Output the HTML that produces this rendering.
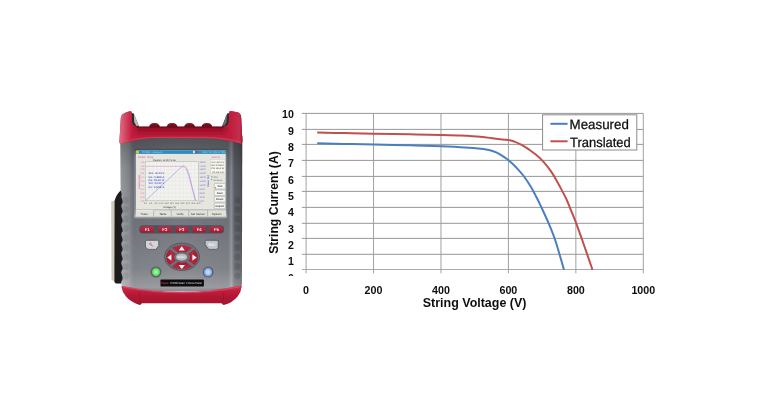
<!DOCTYPE html>
<html lang="en">
<head>
<meta charset="utf-8">
<title>Solar I-V curve tracer and string I-V curves</title>
<style>
html,body{margin:0;padding:0;background:#fff;}
body{width:766px;height:415px;overflow:hidden;font-family:"Liberation Sans", Arial, sans-serif;}
svg{display:block;}
</style>
</head>
<body>
<svg width="766" height="415" viewBox="0 0 766 415">
<rect width="766" height="415" fill="#fff"/>
<g filter="url(#soft)">
<defs>
<linearGradient id="bodyG" x1="120" y1="0" x2="242.2" y2="0" gradientUnits="userSpaceOnUse">
 <stop offset="0" stop-color="#a6a9ae"/>
 <stop offset="0.015" stop-color="#95989d"/>
 <stop offset="0.05" stop-color="#8c8f95"/>
 <stop offset="0.08" stop-color="#80838a"/>
 <stop offset="0.092" stop-color="#74777d"/>
 <stop offset="0.118" stop-color="#6b6e75"/>
 <stop offset="0.5" stop-color="#73767d"/>
 <stop offset="0.885" stop-color="#6b6e75"/>
 <stop offset="0.912" stop-color="#888b92"/>
 <stop offset="0.935" stop-color="#5b5e64"/>
 <stop offset="0.98" stop-color="#51545a"/>
 <stop offset="1" stop-color="#43464b"/>
</linearGradient>
<linearGradient id="bodyV" x1="0" y1="138" x2="0" y2="292" gradientUnits="userSpaceOnUse">
 <stop offset="0" stop-color="#000" stop-opacity="0.28"/>
 <stop offset="0.08" stop-color="#000" stop-opacity="0.18"/>
 <stop offset="0.2" stop-color="#000" stop-opacity="0.05"/>
 <stop offset="0.55" stop-color="#fff" stop-opacity="0.02"/>
 <stop offset="0.85" stop-color="#fff" stop-opacity="0.14"/>
 <stop offset="0.97" stop-color="#fff" stop-opacity="0.30"/>
 <stop offset="1" stop-color="#fff" stop-opacity="0.10"/>
</linearGradient>
<linearGradient id="redTop" x1="0" y1="110" x2="0" y2="144" gradientUnits="userSpaceOnUse">
 <stop offset="0" stop-color="#cf2a48"/>
 <stop offset="0.42" stop-color="#c21c3c"/>
 <stop offset="0.49" stop-color="#be1b3a"/>
 <stop offset="0.505" stop-color="#960d25"/>
 <stop offset="0.64" stop-color="#a8122e"/>
 <stop offset="0.82" stop-color="#bf203d"/>
 <stop offset="1" stop-color="#cf3a56"/>
</linearGradient>
<linearGradient id="hornL" x1="119" y1="0" x2="140" y2="0" gradientUnits="userSpaceOnUse">
 <stop offset="0" stop-color="#cd2947" stop-opacity="1"/>
 <stop offset="0.55" stop-color="#c52040" stop-opacity="1"/>
 <stop offset="1" stop-color="#c21b3c" stop-opacity="0"/>
</linearGradient>
<linearGradient id="hornR" x1="243" y1="0" x2="221" y2="0" gradientUnits="userSpaceOnUse">
 <stop offset="0" stop-color="#b81636" stop-opacity="1"/>
 <stop offset="0.55" stop-color="#c21e3e" stop-opacity="1"/>
 <stop offset="1" stop-color="#c21b3c" stop-opacity="0"/>
</linearGradient>
<linearGradient id="redTopH" x1="119" y1="0" x2="243" y2="0" gradientUnits="userSpaceOnUse">
 <stop offset="0" stop-color="#fff" stop-opacity="0.35"/>
 <stop offset="0.035" stop-color="#fff" stop-opacity="0.22"/>
 <stop offset="0.10" stop-color="#fff" stop-opacity="0"/>
 <stop offset="0.90" stop-color="#fff" stop-opacity="0"/>
 <stop offset="0.97" stop-color="#fff" stop-opacity="0.10"/>
 <stop offset="1" stop-color="#000" stop-opacity="0.10"/>
</linearGradient>
<linearGradient id="redBot" x1="0" y1="285" x2="0" y2="306" gradientUnits="userSpaceOnUse">
 <stop offset="0" stop-color="#d43a56"/>
 <stop offset="0.3" stop-color="#be1d3b"/>
 <stop offset="0.6" stop-color="#b01632"/>
 <stop offset="1" stop-color="#a0102a"/>
</linearGradient>
<linearGradient id="bezG" x1="0" y1="148.7" x2="0" y2="218.5" gradientUnits="userSpaceOnUse">
 <stop offset="0" stop-color="#46494f"/>
 <stop offset="0.04" stop-color="#585b61"/>
 <stop offset="0.12" stop-color="#787b81"/>
 <stop offset="0.9" stop-color="#85888e"/>
 <stop offset="0.97" stop-color="#a9acb1"/>
 <stop offset="1" stop-color="#8c8f95"/>
</linearGradient>
<linearGradient id="fbtn" x1="0" y1="226" x2="0" y2="233" gradientUnits="userSpaceOnUse">
 <stop offset="0" stop-color="#bd3049"/>
 <stop offset="1" stop-color="#a11a31"/>
</linearGradient>
<radialGradient id="greenB" cx="0.5" cy="0.5" r="0.5">
 <stop offset="0" stop-color="#b4f8b4"/>
 <stop offset="0.6" stop-color="#74e67c"/>
 <stop offset="1" stop-color="#48bc56"/>
</radialGradient>
<radialGradient id="blueB" cx="0.5" cy="0.5" r="0.5">
 <stop offset="0" stop-color="#c8dcff"/>
 <stop offset="0.6" stop-color="#9bbcf5"/>
 <stop offset="1" stop-color="#6f93dd"/>
</radialGradient>
<radialGradient id="padR" cx="182" cy="257.2" r="16" gradientUnits="userSpaceOnUse">
 <stop offset="0.35" stop-color="#a21a30"/>
 <stop offset="0.7" stop-color="#b32a41"/>
 <stop offset="1" stop-color="#9e182e"/>
</radialGradient>
<radialGradient id="padG" cx="0.5" cy="0.5" r="0.5">
 <stop offset="0" stop-color="#8b8e94"/>
 <stop offset="0.8" stop-color="#62656b"/>
 <stop offset="1" stop-color="#55585e"/>
</radialGradient>
</defs>
<g id="device">
<path d="M111.2,201.6 L115,200.6 L115,281.6 L111.5,280.0 Z" fill="#d2ccbb"/>
<path id="bodyP" d="M120.2,136 L121.2,283 Q121.4,287.2 126,288.2 Q181,294.5 237.5,288.2 Q241.7,287.2 241.9,283 L242.3,136 Z" fill="url(#bodyG)"/>
<path d="M120.2,136 L121.2,283 Q121.4,287.2 126,288.2 Q181,294.5 237.5,288.2 Q241.7,287.2 241.9,283 L242.3,136 Z" fill="url(#bodyV)"/>
<path d="M120.6,190.6 Q116.8,194 114.6,200.4 L114.4,281.4 Q114.6,283.4 116.4,283.5 L121.0,283.5 L121.6,281 Q123.6,278.9 121.7,274.2 Q120.9,272.5 121.7,270.5 Q123.6,269.4 121.7,264.7 Q120.9,263.0 121.7,261.0 Q123.6,259.9 121.7,255.2 Q120.9,253.5 121.7,251.5 Q123.6,250.4 121.7,245.7 Q120.9,244.0 121.7,242.0 Q123.6,240.9 121.7,236.2 Q120.9,234.5 121.7,232.5 Q123.6,231.4 121.7,226.7 Q120.9,225.0 121.7,223.0 Q123.6,221.9 121.7,217.2 Q120.9,215.5 121.7,213.5 Q123.6,212.4 121.7,207.7 Q120.9,206.0 121.7,204.0 Q123.6,202.9 121.7,198.2 Q120.9,196.5 121.7,194.5 L121.2,192 Z" fill="#1d1d1f"/>
<ellipse cx="125.6" cy="200.0" rx="3.2" ry="3.6" fill="#000" opacity="0.07"/>
<ellipse cx="237.3" cy="200.0" rx="3.0" ry="3.6" fill="#000" opacity="0.10"/>
<ellipse cx="125.6" cy="209.5" rx="3.2" ry="3.6" fill="#000" opacity="0.07"/>
<ellipse cx="237.3" cy="209.5" rx="3.0" ry="3.6" fill="#000" opacity="0.10"/>
<ellipse cx="125.6" cy="219.0" rx="3.2" ry="3.6" fill="#000" opacity="0.07"/>
<ellipse cx="237.3" cy="219.0" rx="3.0" ry="3.6" fill="#000" opacity="0.10"/>
<ellipse cx="125.6" cy="228.5" rx="3.2" ry="3.6" fill="#000" opacity="0.07"/>
<ellipse cx="237.3" cy="228.5" rx="3.0" ry="3.6" fill="#000" opacity="0.10"/>
<ellipse cx="125.6" cy="238.0" rx="3.2" ry="3.6" fill="#000" opacity="0.07"/>
<ellipse cx="237.3" cy="238.0" rx="3.0" ry="3.6" fill="#000" opacity="0.10"/>
<ellipse cx="125.6" cy="247.5" rx="3.2" ry="3.6" fill="#000" opacity="0.07"/>
<ellipse cx="237.3" cy="247.5" rx="3.0" ry="3.6" fill="#000" opacity="0.10"/>
<ellipse cx="125.6" cy="257.0" rx="3.2" ry="3.6" fill="#000" opacity="0.07"/>
<ellipse cx="237.3" cy="257.0" rx="3.0" ry="3.6" fill="#000" opacity="0.10"/>
<ellipse cx="125.6" cy="266.5" rx="3.2" ry="3.6" fill="#000" opacity="0.07"/>
<ellipse cx="237.3" cy="266.5" rx="3.0" ry="3.6" fill="#000" opacity="0.10"/>
<ellipse cx="125.6" cy="276.0" rx="3.2" ry="3.6" fill="#000" opacity="0.07"/>
<ellipse cx="237.3" cy="276.0" rx="3.0" ry="3.6" fill="#000" opacity="0.10"/>
<path d="M131,113.3 L133.6,113.3 L139.4,127.2 L221.6,127.2 L227.4,113.3 L229.6,113.3 L229.6,128 L131,128 Z" fill="#2c2d32"/>
<path d="M133.9,114.8 L135.0,115.2 L136.8,121 L138.8,125.9 L136.2,125.7 L134.2,122 Z" fill="#bdbaae"/>
<path d="M227.0,114.8 L226.0,115.2 L224.4,121 L222.4,125.8 L224.6,125.6 L226.6,122 Z" fill="#6c6d70"/>
<path d="M148.9,127.2 Q149.9,123.0 154.5,123.0 Q159.1,123.0 160.1,127.2 Z" fill="#700c1c"/>
<path d="M151.1,124.3 Q154.5,123.0 157.9,124.3" fill="none" stroke="#a8283c" stroke-width="0.7"/>
<path d="M166.5,127.2 Q167.5,123.0 172.1,123.0 Q176.7,123.0 177.7,127.2 Z" fill="#700c1c"/>
<path d="M168.7,124.3 Q172.1,123.0 175.5,124.3" fill="none" stroke="#a8283c" stroke-width="0.7"/>
<path d="M184.0,127.2 Q185.0,123.0 189.6,123.0 Q194.2,123.0 195.2,127.2 Z" fill="#700c1c"/>
<path d="M186.2,124.3 Q189.6,123.0 193.0,124.3" fill="none" stroke="#a8283c" stroke-width="0.7"/>
<path d="M201.3,127.2 Q202.3,123.0 206.9,123.0 Q211.5,123.0 212.5,127.2 Z" fill="#700c1c"/>
<path d="M203.5,124.3 Q206.9,123.0 210.3,124.3" fill="none" stroke="#a8283c" stroke-width="0.7"/>
<path d="M119.4,142.0 L120.8,118.6 C121.1,114.4 123.4,112.7 130.2,111.2 Q131.9,111.0 131.9,113.2 L131.9,121.5 Q132.2,126.8 138.5,126.8 L222.5,126.8 Q228.6,126.8 228.9,121.5 L228.9,113.2 Q228.9,111.0 230.8,111.0 L237.4,112.2 Q240.8,113.0 241.2,117.2 L242.4,141.6 Q242.5,143.6 240.6,143.4 Q226,138.9 205,138.2 L158,138.1 Q136,138.7 122.0,143.6 Q119.4,144.2 119.4,142.0 Z" fill="url(#redTop)"/>
<path d="M119.4,142.0 L120.8,118.6 C121.1,114.4 123.4,112.7 130.2,111.2 Q131.9,111.0 131.9,113.2 L131.9,121.5 Q132.2,126.8 138.5,126.8 L139,140.4 Q128,141.6 122.0,143.6 Q119.4,144.2 119.4,142.0 Z" fill="url(#hornL)"/>
<path d="M242.4,141.6 L241.2,117.2 Q240.8,113.0 237.4,112.2 L230.8,111.0 Q228.9,111.0 228.9,113.2 L228.9,121.5 Q228.6,126.8 222.5,126.8 L222,140.0 Q233,141.2 240.6,143.4 Q242.5,143.6 242.4,141.6 Z" fill="url(#hornR)"/>
<path d="M119.4,142.0 L120.8,118.6 C121.1,114.4 123.4,112.7 130.2,111.2 Q131.9,111.0 131.9,113.2 L131.9,121.5 Q132.2,126.8 138.5,126.8 L222.5,126.8 Q228.6,126.8 228.9,121.5 L228.9,113.2 Q228.9,111.0 230.8,111.0 L237.4,112.2 Q240.8,113.0 241.2,117.2 L242.4,141.6 Q242.5,143.6 240.6,143.4 Q226,138.9 205,138.2 L158,138.1 Q136,138.7 122.0,143.6 Q119.4,144.2 119.4,142.0 Z" fill="url(#redTopH)"/>
<path d="M136.6,127.0 L223.4,127.0" stroke="#3c0813" stroke-width="0.9" opacity="0.9"/>
<path d="M121,142.6 Q137,137.8 158,137.3 L205,137.4 Q226,138.1 241,142.4" fill="none" stroke="#e0506c" stroke-width="1.1" opacity="0.5"/>
<rect x="134.0" y="148.7" width="93.2" height="69.8" rx="1.8" fill="url(#bezG)"/>
<rect x="135.9" y="150.5" width="89.8" height="65.9" fill="#e6e6df"/>
<rect x="135.9" y="150.5" width="89.8" height="3.4" fill="#2b8dc4"/>
<rect x="136.2" y="150.8" width="2.6" height="2.8" fill="#e8d020"/>
<rect x="193.2" y="150.8" width="1.6" height="2.4" fill="#f4f4f4"/><rect x="195.6" y="150.8" width="1.6" height="2.4" fill="#d03030"/>
<text transform="translate(142.50 153.30) scale(0.259 0.260)" font-family='"Liberation Sans", Arial, sans-serif' font-size="10" fill="#a8d8f0" text-rendering="geometricPrecision">PV900 - Analyzer</text>
<text transform="translate(202.50 153.30) scale(0.279 0.260)" font-family='"Liberation Sans", Arial, sans-serif' font-size="10" fill="#a8d8f0" text-rendering="geometricPrecision">2017-07-25  17:25</text>
<rect x="145.4" y="161.8" width="53.0" height="39.0" fill="#f2f2ee" stroke="#a4a4aa" stroke-width="0.45"/>
<g stroke="#dadade" stroke-width="0.3"><line x1="145.4" y1="165.7" x2="198.4" y2="165.7"/><line x1="145.4" y1="169.6" x2="198.4" y2="169.6"/><line x1="145.4" y1="173.5" x2="198.4" y2="173.5"/><line x1="145.4" y1="177.4" x2="198.4" y2="177.4"/><line x1="145.4" y1="181.3" x2="198.4" y2="181.3"/><line x1="145.4" y1="185.2" x2="198.4" y2="185.2"/><line x1="145.4" y1="189.1" x2="198.4" y2="189.1"/><line x1="145.4" y1="193.0" x2="198.4" y2="193.0"/><line x1="145.4" y1="196.9" x2="198.4" y2="196.9"/><line x1="149.2" y1="161.8" x2="149.2" y2="200.8"/><line x1="153.0" y1="161.8" x2="153.0" y2="200.8"/><line x1="156.8" y1="161.8" x2="156.8" y2="200.8"/><line x1="160.6" y1="161.8" x2="160.6" y2="200.8"/><line x1="164.3" y1="161.8" x2="164.3" y2="200.8"/><line x1="168.1" y1="161.8" x2="168.1" y2="200.8"/><line x1="171.9" y1="161.8" x2="171.9" y2="200.8"/><line x1="175.7" y1="161.8" x2="175.7" y2="200.8"/><line x1="179.5" y1="161.8" x2="179.5" y2="200.8"/><line x1="183.3" y1="161.8" x2="183.3" y2="200.8"/><line x1="187.1" y1="161.8" x2="187.1" y2="200.8"/><line x1="190.9" y1="161.8" x2="190.9" y2="200.8"/><line x1="194.7" y1="161.8" x2="194.7" y2="200.8"/></g>
<path d="M145.6,166.4 L181.5,166.4 Q184.6,166.4 186.2,169 Q188.6,174 191.0,184 L195.2,200.6" fill="none" stroke="#e884c0" stroke-width="0.5"/>
<path d="M145.6,200.6 L181.0,167.4 Q183.2,165.4 184.6,166.0 Q186.8,167.2 188.6,173 Q191.4,184 195.6,200.6" fill="none" stroke="#8080dc" stroke-width="0.5"/>
<text transform="translate(153.00 160.60) scale(0.231 0.240)" font-family='"Liberation Sans", Arial, sans-serif' font-size="10" fill="#444" text-rendering="geometricPrecision">Daystar I at 60of Solar</text>
<text transform="translate(137.90 158.30) scale(0.236 0.270)" font-family='"Liberation Sans", Arial, sans-serif' font-size="10" fill="#dc50ac" text-rendering="geometricPrecision">Module: String</text>
<text transform="translate(139.60 189.00) rotate(-90) scale(0.283 0.250)" font-family='"Liberation Sans", Arial, sans-serif' font-size="10" fill="#d63aa0" text-rendering="geometricPrecision">Current (A)</text>
<text transform="translate(209.20 187.00) rotate(-90) scale(0.254 0.250)" font-family='"Liberation Sans", Arial, sans-serif' font-size="10" fill="#4a4ad0" text-rendering="geometricPrecision">Power (W)</text>
<text transform="translate(163.00 208.20) scale(0.263 0.250)" font-family='"Liberation Sans", Arial, sans-serif' font-size="10" fill="#333" text-rendering="geometricPrecision">Voltage (V)</text>
<text transform="translate(144.40 162.60) scale(0.200 0.200)" font-family='"Liberation Sans", Arial, sans-serif' font-size="10" text-anchor="end" fill="#e060b0" text-rendering="geometricPrecision">1.09</text>
<text transform="translate(144.40 166.50) scale(0.200 0.200)" font-family='"Liberation Sans", Arial, sans-serif' font-size="10" text-anchor="end" fill="#e060b0" text-rendering="geometricPrecision">1.00</text>
<text transform="translate(144.40 170.40) scale(0.200 0.200)" font-family='"Liberation Sans", Arial, sans-serif' font-size="10" text-anchor="end" fill="#e060b0" text-rendering="geometricPrecision">0.90</text>
<text transform="translate(144.40 174.30) scale(0.200 0.200)" font-family='"Liberation Sans", Arial, sans-serif' font-size="10" text-anchor="end" fill="#e060b0" text-rendering="geometricPrecision">0.81</text>
<text transform="translate(144.40 178.20) scale(0.200 0.200)" font-family='"Liberation Sans", Arial, sans-serif' font-size="10" text-anchor="end" fill="#e060b0" text-rendering="geometricPrecision">0.72</text>
<text transform="translate(144.40 182.10) scale(0.200 0.200)" font-family='"Liberation Sans", Arial, sans-serif' font-size="10" text-anchor="end" fill="#e060b0" text-rendering="geometricPrecision">0.63</text>
<text transform="translate(144.40 186.00) scale(0.200 0.200)" font-family='"Liberation Sans", Arial, sans-serif' font-size="10" text-anchor="end" fill="#e060b0" text-rendering="geometricPrecision">0.54</text>
<text transform="translate(144.40 189.90) scale(0.200 0.200)" font-family='"Liberation Sans", Arial, sans-serif' font-size="10" text-anchor="end" fill="#e060b0" text-rendering="geometricPrecision">0.45</text>
<text transform="translate(144.40 193.80) scale(0.200 0.200)" font-family='"Liberation Sans", Arial, sans-serif' font-size="10" text-anchor="end" fill="#e060b0" text-rendering="geometricPrecision">0.36</text>
<text transform="translate(144.40 197.70) scale(0.200 0.200)" font-family='"Liberation Sans", Arial, sans-serif' font-size="10" text-anchor="end" fill="#e060b0" text-rendering="geometricPrecision">0.18</text>
<text transform="translate(144.40 201.60) scale(0.200 0.200)" font-family='"Liberation Sans", Arial, sans-serif' font-size="10" text-anchor="end" fill="#e060b0" text-rendering="geometricPrecision">0.00</text>
<text transform="translate(199.60 162.60) scale(0.200 0.200)" font-family='"Liberation Sans", Arial, sans-serif' font-size="10" fill="#5a5ad8" text-rendering="geometricPrecision">300.00</text>
<text transform="translate(199.60 166.50) scale(0.200 0.200)" font-family='"Liberation Sans", Arial, sans-serif' font-size="10" fill="#5a5ad8" text-rendering="geometricPrecision">270.00</text>
<text transform="translate(199.60 170.40) scale(0.200 0.200)" font-family='"Liberation Sans", Arial, sans-serif' font-size="10" fill="#5a5ad8" text-rendering="geometricPrecision">240.00</text>
<text transform="translate(199.60 174.30) scale(0.200 0.200)" font-family='"Liberation Sans", Arial, sans-serif' font-size="10" fill="#5a5ad8" text-rendering="geometricPrecision">210.00</text>
<text transform="translate(199.60 178.20) scale(0.200 0.200)" font-family='"Liberation Sans", Arial, sans-serif' font-size="10" fill="#5a5ad8" text-rendering="geometricPrecision">180.00</text>
<text transform="translate(199.60 182.10) scale(0.200 0.200)" font-family='"Liberation Sans", Arial, sans-serif' font-size="10" fill="#5a5ad8" text-rendering="geometricPrecision">150.00</text>
<text transform="translate(199.60 186.00) scale(0.200 0.200)" font-family='"Liberation Sans", Arial, sans-serif' font-size="10" fill="#5a5ad8" text-rendering="geometricPrecision">120.00</text>
<text transform="translate(199.60 189.90) scale(0.200 0.200)" font-family='"Liberation Sans", Arial, sans-serif' font-size="10" fill="#5a5ad8" text-rendering="geometricPrecision">90.00</text>
<text transform="translate(199.60 193.80) scale(0.200 0.200)" font-family='"Liberation Sans", Arial, sans-serif' font-size="10" fill="#5a5ad8" text-rendering="geometricPrecision">60.00</text>
<text transform="translate(199.60 197.70) scale(0.200 0.200)" font-family='"Liberation Sans", Arial, sans-serif' font-size="10" fill="#5a5ad8" text-rendering="geometricPrecision">30.00</text>
<text transform="translate(199.60 201.60) scale(0.200 0.200)" font-family='"Liberation Sans", Arial, sans-serif' font-size="10" fill="#5a5ad8" text-rendering="geometricPrecision">0.00</text>
<text transform="translate(145.40 204.00) scale(0.200 0.200)" font-family='"Liberation Sans", Arial, sans-serif' font-size="10" text-anchor="middle" fill="#555" text-rendering="geometricPrecision">0.0</text>
<text transform="translate(150.70 204.00) scale(0.200 0.200)" font-family='"Liberation Sans", Arial, sans-serif' font-size="10" text-anchor="middle" fill="#555" text-rendering="geometricPrecision">4.0</text>
<text transform="translate(156.00 204.00) scale(0.200 0.200)" font-family='"Liberation Sans", Arial, sans-serif' font-size="10" text-anchor="middle" fill="#555" text-rendering="geometricPrecision">8.0</text>
<text transform="translate(161.30 204.00) scale(0.200 0.200)" font-family='"Liberation Sans", Arial, sans-serif' font-size="10" text-anchor="middle" fill="#555" text-rendering="geometricPrecision">12.0</text>
<text transform="translate(166.60 204.00) scale(0.200 0.200)" font-family='"Liberation Sans", Arial, sans-serif' font-size="10" text-anchor="middle" fill="#555" text-rendering="geometricPrecision">16.0</text>
<text transform="translate(171.90 204.00) scale(0.200 0.200)" font-family='"Liberation Sans", Arial, sans-serif' font-size="10" text-anchor="middle" fill="#555" text-rendering="geometricPrecision">20.0</text>
<text transform="translate(177.20 204.00) scale(0.200 0.200)" font-family='"Liberation Sans", Arial, sans-serif' font-size="10" text-anchor="middle" fill="#555" text-rendering="geometricPrecision">24.0</text>
<text transform="translate(182.50 204.00) scale(0.200 0.200)" font-family='"Liberation Sans", Arial, sans-serif' font-size="10" text-anchor="middle" fill="#555" text-rendering="geometricPrecision">28.0</text>
<text transform="translate(187.80 204.00) scale(0.200 0.200)" font-family='"Liberation Sans", Arial, sans-serif' font-size="10" text-anchor="middle" fill="#555" text-rendering="geometricPrecision">32.0</text>
<text transform="translate(193.10 204.00) scale(0.200 0.200)" font-family='"Liberation Sans", Arial, sans-serif' font-size="10" text-anchor="middle" fill="#555" text-rendering="geometricPrecision">36.0</text>
<text transform="translate(198.40 204.00) scale(0.200 0.200)" font-family='"Liberation Sans", Arial, sans-serif' font-size="10" text-anchor="middle" fill="#555" text-rendering="geometricPrecision">40.0</text>
<text transform="translate(148.40 174.40) scale(0.275 0.260)" font-family='"Liberation Sans", Arial, sans-serif' font-size="10" font-weight="700" fill="#5a68d4" text-rendering="geometricPrecision">Voc:   40.24 V</text>
<text transform="translate(148.40 177.70) scale(0.293 0.260)" font-family='"Liberation Sans", Arial, sans-serif' font-size="10" font-weight="700" fill="#5a68d4" text-rendering="geometricPrecision">Isc:   0.995 A</text>
<text transform="translate(148.40 181.00) scale(0.248 0.260)" font-family='"Liberation Sans", Arial, sans-serif' font-size="10" font-weight="700" fill="#5a68d4" text-rendering="geometricPrecision">Pm:  28.447 W</text>
<text transform="translate(148.40 184.30) scale(0.285 0.260)" font-family='"Liberation Sans", Arial, sans-serif' font-size="10" font-weight="700" fill="#5a68d4" text-rendering="geometricPrecision">Vm:   30.30 V</text>
<text transform="translate(148.40 187.60) scale(0.305 0.260)" font-family='"Liberation Sans", Arial, sans-serif' font-size="10" font-weight="700" fill="#5a68d4" text-rendering="geometricPrecision">Im:   0.938 A</text>
<text transform="translate(211.60 158.20) scale(0.178 0.240)" font-family='"Liberation Sans", Arial, sans-serif' font-size="10" fill="#d63aa0" text-rendering="geometricPrecision">Sensor (V)</text>
<rect x="210.6" y="159.4" width="14.6" height="14.0" fill="#f6f6ee" stroke="#b8b8b0" stroke-width="0.3"/>
<text transform="translate(211.20 162.60) scale(0.269 0.230)" font-family='"Liberation Sans", Arial, sans-serif' font-size="10" fill="#444" text-rendering="geometricPrecision">Voc  40.2   V</text>
<text transform="translate(211.20 165.90) scale(0.296 0.230)" font-family='"Liberation Sans", Arial, sans-serif' font-size="10" fill="#444" text-rendering="geometricPrecision">Isc  0.99  A</text>
<text transform="translate(211.20 169.20) scale(0.263 0.230)" font-family='"Liberation Sans", Arial, sans-serif' font-size="10" fill="#444" text-rendering="geometricPrecision">Pm   28.4  W</text>
<text transform="translate(211.20 172.50) scale(0.279 0.230)" font-family='"Liberation Sans", Arial, sans-serif' font-size="10" fill="#444" text-rendering="geometricPrecision">Tm   24.5  C</text>
<text transform="translate(213.40 177.60) scale(0.220 0.220)" font-family='"Liberation Sans", Arial, sans-serif' font-size="10" fill="#666" text-rendering="geometricPrecision">STC</text>
<text transform="translate(213.40 180.80) scale(0.220 0.220)" font-family='"Liberation Sans", Arial, sans-serif' font-size="10" fill="#666" text-rendering="geometricPrecision">Continue</text>
<circle cx="211.8" cy="176.9" r="0.7" fill="#40b060"/><rect x="211.1" y="179.4" width="1.4" height="1.4" fill="#fff" stroke="#888" stroke-width="0.25"/>
<rect x="214.2" y="183.4" width="11.2" height="5.6" rx="0.8" fill="#f7f7f2" stroke="#8f949c" stroke-width="0.45"/>
<text transform="translate(219.80 187.20) scale(0.270 0.270)" font-family='"Liberation Sans", Arial, sans-serif' font-size="10" font-weight="700" text-anchor="middle" fill="#3a3a4a" text-rendering="geometricPrecision">Test</text>
<rect x="214.2" y="190.0" width="11.2" height="5.6" rx="0.8" fill="#f7f7f2" stroke="#8f949c" stroke-width="0.45"/>
<text transform="translate(219.80 193.75) scale(0.270 0.270)" font-family='"Liberation Sans", Arial, sans-serif' font-size="10" font-weight="700" text-anchor="middle" fill="#3a3a4a" text-rendering="geometricPrecision">Save</text>
<rect x="214.2" y="196.5" width="11.2" height="5.6" rx="0.8" fill="#f7f7f2" stroke="#8f949c" stroke-width="0.45"/>
<text transform="translate(219.80 200.30) scale(0.270 0.270)" font-family='"Liberation Sans", Arial, sans-serif' font-size="10" font-weight="700" text-anchor="middle" fill="#3a3a4a" text-rendering="geometricPrecision">Reset</text>
<rect x="214.2" y="203.1" width="11.2" height="5.6" rx="0.8" fill="#f7f7f2" stroke="#8f949c" stroke-width="0.45"/>
<text transform="translate(219.80 206.85) scale(0.270 0.270)" font-family='"Liberation Sans", Arial, sans-serif' font-size="10" font-weight="700" text-anchor="middle" fill="#3a3a4a" text-rendering="geometricPrecision">Export</text>
<rect x="214.9" y="187.3" width="1.0" height="1.0" fill="#e03030"/>
<rect x="135.8" y="209.8" width="90.0" height="6.6" fill="#e2e2d9"/>
<line x1="135.8" y1="209.8" x2="225.8" y2="209.8" stroke="#777a80" stroke-width="0.45"/>
<text transform="translate(144.20 214.60) scale(0.290 0.290)" font-family='"Liberation Sans", Arial, sans-serif' font-size="10" text-anchor="middle" fill="#333" text-rendering="geometricPrecision">Trace</text>
<text transform="translate(162.80 214.60) scale(0.290 0.290)" font-family='"Liberation Sans", Arial, sans-serif' font-size="10" text-anchor="middle" fill="#333" text-rendering="geometricPrecision">Table</text>
<text transform="translate(180.00 214.60) scale(0.290 0.290)" font-family='"Liberation Sans", Arial, sans-serif' font-size="10" text-anchor="middle" fill="#333" text-rendering="geometricPrecision">Verify</text>
<text transform="translate(198.00 214.60) scale(0.290 0.290)" font-family='"Liberation Sans", Arial, sans-serif' font-size="10" text-anchor="middle" fill="#333" text-rendering="geometricPrecision">Set Sensor</text>
<text transform="translate(216.60 214.60) scale(0.290 0.290)" font-family='"Liberation Sans", Arial, sans-serif' font-size="10" text-anchor="middle" fill="#333" text-rendering="geometricPrecision">System</text>
<line x1="153.6" y1="210.2" x2="153.6" y2="216.4" stroke="#777a80" stroke-width="0.4"/>
<line x1="171.2" y1="210.2" x2="171.2" y2="216.4" stroke="#777a80" stroke-width="0.4"/>
<line x1="188.8" y1="210.2" x2="188.8" y2="216.4" stroke="#777a80" stroke-width="0.4"/>
<line x1="207.6" y1="210.2" x2="207.6" y2="216.4" stroke="#777a80" stroke-width="0.4"/>
<rect x="135.8" y="209.9" width="17.6" height="1.2" fill="#eaeae3"/>
<rect x="139.2" y="225.2" width="85.0" height="8.3" rx="3.8" fill="#484b51" opacity="0.85"/>
<path d="M142.8,226.5 L153.1,226.5 Q154.0,226.5 154.0,227.4 L154.0,231.6 Q154.0,232.5 153.1,232.5 L142.8,232.5 Q140.2,232.5 140.2,229.9 L140.2,229.1 Q140.2,226.5 142.8,226.5 Z" fill="url(#fbtn)"/>
<text transform="translate(147.10 231.00) scale(0.420 0.420)" font-family='"Liberation Sans", Arial, sans-serif' font-size="10" font-weight="700" text-anchor="middle" fill="#fbeef0" text-rendering="geometricPrecision">F1</text>
<path d="M159.1,226.5 L170.5,226.5 Q171.4,226.5 171.4,227.4 L171.4,231.6 Q171.4,232.5 170.5,232.5 L159.1,232.5 Q158.2,232.5 158.2,231.6 L158.2,227.4 Q158.2,226.5 159.1,226.5 Z" fill="url(#fbtn)"/>
<text transform="translate(164.80 231.00) scale(0.420 0.420)" font-family='"Liberation Sans", Arial, sans-serif' font-size="10" font-weight="700" text-anchor="middle" fill="#fbeef0" text-rendering="geometricPrecision">F2</text>
<path d="M176.3,226.5 L187.3,226.5 Q188.2,226.5 188.2,227.4 L188.2,231.6 Q188.2,232.5 187.3,232.5 L176.3,232.5 Q175.4,232.5 175.4,231.6 L175.4,227.4 Q175.4,226.5 176.3,226.5 Z" fill="url(#fbtn)"/>
<text transform="translate(181.80 231.00) scale(0.420 0.420)" font-family='"Liberation Sans", Arial, sans-serif' font-size="10" font-weight="700" text-anchor="middle" fill="#fbeef0" text-rendering="geometricPrecision">F3</text>
<path d="M193.4,226.5 L204.8,226.5 Q205.7,226.5 205.7,227.4 L205.7,231.6 Q205.7,232.5 204.8,232.5 L193.4,232.5 Q192.5,232.5 192.5,231.6 L192.5,227.4 Q192.5,226.5 193.4,226.5 Z" fill="url(#fbtn)"/>
<text transform="translate(199.10 231.00) scale(0.420 0.420)" font-family='"Liberation Sans", Arial, sans-serif' font-size="10" font-weight="700" text-anchor="middle" fill="#fbeef0" text-rendering="geometricPrecision">F4</text>
<path d="M210.5,226.5 L220.5,226.5 Q223.1,226.5 223.1,229.1 L223.1,229.9 Q223.1,232.5 220.5,232.5 L210.5,232.5 Q209.6,232.5 209.6,231.6 L209.6,227.4 Q209.6,226.5 210.5,226.5 Z" fill="url(#fbtn)"/>
<text transform="translate(216.35 231.00) scale(0.420 0.420)" font-family='"Liberation Sans", Arial, sans-serif' font-size="10" font-weight="700" text-anchor="middle" fill="#fbeef0" text-rendering="geometricPrecision">F5</text>
<path d="M146.8,240.3 L157.4,240.3 Q158.9,240.4 158.8,241.9 L158.7,245.8 L155.8,249.4 L148.0,249.4 L145.5,247.0 L145.4,241.6 Q145.5,240.4 146.8,240.3 Z" fill="#d2d4d8" stroke="#44474d" stroke-width="0.7"/>
<circle cx="150.4" cy="243.8" r="0.9" fill="none" stroke="#d83040" stroke-width="0.5"/><path d="M151.0,244.5 L152.8,246.6" stroke="#d83040" stroke-width="0.7"/>
<path d="M206.4,240.3 L217.0,240.3 Q218.4,240.4 218.3,241.8 L218.2,247.6 L216.4,249.4 L208.8,249.4 L205.2,244.8 L205.1,241.6 Q205.2,240.4 206.4,240.3 Z" fill="#c1c4c9" stroke="#44474d" stroke-width="0.7"/>
<text transform="translate(212.20 246.20) scale(0.360 0.360)" font-family='"Liberation Sans", Arial, sans-serif' font-size="10" font-weight="700" text-anchor="middle" fill="#f6f6f8" text-rendering="geometricPrecision">ESC</text>
<ellipse cx="182.0" cy="256.8" rx="17.6" ry="13.7" fill="#6d7077" stroke="#54575d" stroke-width="0.9"/>
<path fill-rule="evenodd" fill="url(#padR)" d="M166.2,257.2 A15.8,12.0 0 1 0 197.8,257.2 A15.8,12.0 0 1 0 166.2,257.2 Z M174.0,257.2 A8.0,5.5 0 1 0 190.0,257.2 A8.0,5.5 0 1 0 174.0,257.2 Z"/>
<path d="M170.2,248.1 L193.8,266.3 M193.8,248.1 L170.2,266.3" stroke="#6d7077" stroke-width="2.7" stroke-linecap="butt" fill="none"/>
<path d="M181.8,246.2 L184.9,250.4 L178.7,250.4 Z" fill="#fdf4f5"/>
<path d="M181.8,268.9 L184.9,265.0 L178.7,265.0 Z" fill="#fdf4f5"/>
<path d="M167.2,257.5 L171.4,254.4 L171.4,260.6 Z" fill="#fdf4f5"/>
<path d="M196.8,257.5 L192.4,254.4 L192.4,260.6 Z" fill="#fdf4f5"/>
<ellipse cx="181.6" cy="257.1" rx="6.1" ry="3.9" fill="#b9bcc1" stroke="#5f6268" stroke-width="0.7"/>
<text transform="translate(181.60 258.20) scale(0.300 0.300)" font-family='"Liberation Sans", Arial, sans-serif' font-size="10" font-weight="700" text-anchor="middle" fill="#eeeef1" text-rendering="geometricPrecision">Enter</text>
<circle cx="156.0" cy="272.0" r="5.5" fill="#5b5e64"/><circle cx="156.0" cy="272.0" r="4.2" fill="url(#greenB)"/>
<circle cx="208.1" cy="272.1" r="5.5" fill="#5b5e64"/><circle cx="208.1" cy="272.1" r="4.3" fill="url(#blueB)"/>
<circle cx="208.1" cy="272.1" r="1.7" fill="none" stroke="#e9f0ff" stroke-width="0.5" opacity="0.8"/>
<rect x="160.5" y="279.4" width="43.4" height="7.2" rx="0.9" fill="#0f0f11"/>
<text transform="translate(161.60 284.20) scale(0.191 0.300)" font-family='"Liberation Sans", Arial, sans-serif' font-size="10" font-weight="700" fill="#d8283c" text-rendering="geometricPrecision">Daystar</text>
<text transform="translate(170.40 284.20) scale(0.238 0.290)" font-family='"Liberation Sans", Arial, sans-serif' font-size="10" fill="#e6e6e6" text-rendering="geometricPrecision">PV900 Solar I-V Curve Tracer</text>
<path d="M121.5,287.2 Q121.3,285.6 123.0,286.0 Q150,291.8 181.6,291.8 Q213,291.8 240.2,285.4 Q241.9,285.0 241.8,286.6 Q241.2,292 237.6,296.4 Q232.6,302.4 224.6,304.8 Q222.6,305.3 222.0,303.3 L141.6,303.3 Q141.0,305.3 139.0,304.8 Q131.0,302.4 126.0,296.6 Q122.2,292 121.5,287.2 Z" fill="url(#redBot)"/>
<path d="M123.0,286.6 Q150,292.6 181.6,292.6 Q213,292.6 240.2,286.6" fill="none" stroke="#e8607a" stroke-width="1.2" opacity="0.55"/>
<path d="M141.4,303.6 Q139.4,298.0 139.6,292.6" fill="none" stroke="#8f0e26" stroke-width="0.8" opacity="0.7"/>
<path d="M222.0,303.6 Q224.0,298.0 223.8,292.6" fill="none" stroke="#8f0e26" stroke-width="0.8" opacity="0.7"/>
</g>
<g id="chart">
<g stroke="#8c8c8c" stroke-width="0.9" fill="none"><line x1="301.9" y1="269.50" x2="643.3" y2="269.50" stroke="#a2a2a2"/><line x1="301.9" y1="254.30" x2="643.3" y2="254.30"/><line x1="301.9" y1="238.40" x2="643.3" y2="238.40"/><line x1="301.9" y1="223.30" x2="643.3" y2="223.30"/><line x1="301.9" y1="207.40" x2="643.3" y2="207.40"/><line x1="301.9" y1="191.40" x2="643.3" y2="191.40"/><line x1="301.9" y1="176.40" x2="643.3" y2="176.40"/><line x1="301.9" y1="160.40" x2="643.3" y2="160.40"/><line x1="301.9" y1="144.40" x2="643.3" y2="144.40"/><line x1="301.9" y1="129.40" x2="643.3" y2="129.40"/><line x1="301.9" y1="113.40" x2="643.3" y2="113.40"/></g>
<g stroke="#9c9c9c" stroke-width="0.95" fill="none"><line x1="306.10" y1="113.4" x2="306.10" y2="273.3"/><line x1="373.54" y1="113.4" x2="373.54" y2="273.3"/><line x1="440.98" y1="113.4" x2="440.98" y2="273.3"/><line x1="508.42" y1="113.4" x2="508.42" y2="273.3"/><line x1="575.86" y1="113.4" x2="575.86" y2="273.3"/><line x1="643.30" y1="113.4" x2="643.30" y2="273.3"/></g>
<path d="M317.2,143.3 C321.8,143.4 335.6,143.7 345.0,143.9 C354.4,144.1 363.1,144.3 373.9,144.5 C384.7,144.7 398.7,145.0 410.0,145.3 C421.3,145.6 433.4,145.9 441.7,146.2 C450.0,146.5 454.3,146.9 460.0,147.2 C465.7,147.5 471.1,147.8 475.9,148.2 C480.7,148.6 485.6,149.2 489.0,149.9 C492.4,150.6 493.9,151.3 496.3,152.4 C498.7,153.5 501.4,155.2 503.5,156.6 C505.6,158.0 506.7,158.7 508.9,160.6 C511.1,162.5 514.0,165.2 516.5,167.8 C519.0,170.5 521.6,173.3 524.0,176.5 C526.4,179.7 529.1,183.8 531.0,187.0 C532.9,190.2 533.9,192.3 535.5,195.4 C537.1,198.5 538.3,200.7 540.5,205.4 C542.7,210.1 546.1,217.3 548.7,223.4 C551.3,229.5 553.4,234.5 555.9,242.2 C558.4,249.9 562.6,265.2 564.0,269.8" fill="none" stroke="#4a7fbe" stroke-width="2.0" stroke-linejoin="round" stroke-linecap="butt"/>
<path d="M317.2,132.6 C321.8,132.7 335.6,132.9 345.0,133.1 C354.4,133.3 363.1,133.5 373.9,133.7 C384.7,133.9 398.7,134.1 410.0,134.3 C421.3,134.5 433.4,134.7 441.7,134.9 C450.0,135.1 453.6,135.3 460.0,135.6 C466.4,135.9 474.9,136.3 480.0,136.8 C485.1,137.2 487.8,137.6 490.8,138.0 C493.8,138.4 495.2,138.8 498.1,139.1 C501.0,139.4 505.3,139.5 508.0,139.9 C510.7,140.3 512.1,140.8 514.4,141.6 C516.7,142.4 519.2,143.6 521.6,144.9 C524.0,146.2 526.4,147.8 528.8,149.4 C531.2,151.1 533.7,152.8 536.1,154.8 C538.5,156.8 540.9,159.0 543.3,161.6 C545.7,164.2 548.4,167.6 550.5,170.6 C552.6,173.6 554.2,176.3 556.0,179.4 C557.8,182.5 559.6,186.0 561.4,189.4 C563.2,192.8 565.4,197.0 566.8,200.0 C568.2,203.0 568.4,204.0 569.9,207.6 C571.4,211.2 573.2,215.3 575.6,221.7 C578.0,228.1 581.5,238.0 584.3,246.0 C587.1,254.0 591.1,265.8 592.5,269.8" fill="none" stroke="#c0504d" stroke-width="2.0" stroke-linejoin="round" stroke-linecap="butt"/>
<rect x="542.6" y="114.8" width="94.2" height="35.2" fill="#fff" stroke="#8c8c8c" stroke-width="1"/>
<line x1="550.4" y1="123.8" x2="567.6" y2="123.8" stroke="#4a7fbe" stroke-width="2"/>
<line x1="550.4" y1="141.3" x2="567.6" y2="141.3" stroke="#c0504d" stroke-width="2"/>
<text x="569.6" y="129.3" font-family='"Liberation Sans", Arial, sans-serif' font-size="13.6" text-rendering="geometricPrecision" fill="#0c0c0c" stroke="#0c0c0c" stroke-width="0.25" textLength="59.2" lengthAdjust="spacingAndGlyphs">Measured</text>
<text x="570.0" y="146.5" font-family='"Liberation Sans", Arial, sans-serif' font-size="13.6" text-rendering="geometricPrecision" fill="#0c0c0c" stroke="#0c0c0c" stroke-width="0.25" textLength="60.8" lengthAdjust="spacingAndGlyphs">Translated</text>
<clipPath id="yc"><rect x="270" y="100" width="30" height="175.9"/></clipPath>
<g clip-path="url(#yc)" font-family='"Liberation Sans", Arial, sans-serif' font-size="10.7" font-weight="700" fill="#111" text-anchor="end">
<text x="293.9" y="281.6" textLength="5.9" lengthAdjust="spacingAndGlyphs">0</text>
<text x="293.9" y="265.3" textLength="5.9" lengthAdjust="spacingAndGlyphs">1</text>
<text x="293.9" y="249.0" textLength="5.9" lengthAdjust="spacingAndGlyphs">2</text>
<text x="293.9" y="232.6" textLength="5.9" lengthAdjust="spacingAndGlyphs">3</text>
<text x="293.9" y="216.3" textLength="5.9" lengthAdjust="spacingAndGlyphs">4</text>
<text x="293.9" y="199.9" textLength="5.9" lengthAdjust="spacingAndGlyphs">5</text>
<text x="293.9" y="183.6" textLength="5.9" lengthAdjust="spacingAndGlyphs">6</text>
<text x="293.9" y="167.2" textLength="5.9" lengthAdjust="spacingAndGlyphs">7</text>
<text x="293.9" y="150.8" textLength="5.9" lengthAdjust="spacingAndGlyphs">8</text>
<text x="293.9" y="134.5" textLength="5.9" lengthAdjust="spacingAndGlyphs">9</text>
<text x="293.9" y="118.2" textLength="11.8" lengthAdjust="spacingAndGlyphs">10</text>
</g>
<g font-family='"Liberation Sans", Arial, sans-serif' font-size="10.7" font-weight="700" fill="#111" text-anchor="middle">
<text x="306.1" y="293.6" textLength="6.0" lengthAdjust="spacingAndGlyphs">0</text>
<text x="373.5" y="293.6" textLength="17.9" lengthAdjust="spacingAndGlyphs">200</text>
<text x="441.0" y="293.6" textLength="17.9" lengthAdjust="spacingAndGlyphs">400</text>
<text x="508.4" y="293.6" textLength="17.9" lengthAdjust="spacingAndGlyphs">600</text>
<text x="575.9" y="293.6" textLength="17.9" lengthAdjust="spacingAndGlyphs">800</text>
<text x="643.3" y="293.6" textLength="23.8" lengthAdjust="spacingAndGlyphs">1000</text>
</g>
<text x="422.8" y="306.9" font-family='"Liberation Sans", Arial, sans-serif' font-size="12.4" font-weight="700" fill="#111" textLength="103.6" lengthAdjust="spacingAndGlyphs">String Voltage (V)</text>
<text transform="translate(277.6 253.8) rotate(-90)" font-family='"Liberation Sans", Arial, sans-serif' font-size="12.4" font-weight="700" fill="#111" textLength="102.5" lengthAdjust="spacingAndGlyphs">String Current (A)</text>
</g>
</g>
<defs><filter id="soft" x="0" y="0" width="766" height="415" filterUnits="userSpaceOnUse"><feGaussianBlur stdDeviation="0.45"/></filter></defs>
</svg>
</body>
</html>
